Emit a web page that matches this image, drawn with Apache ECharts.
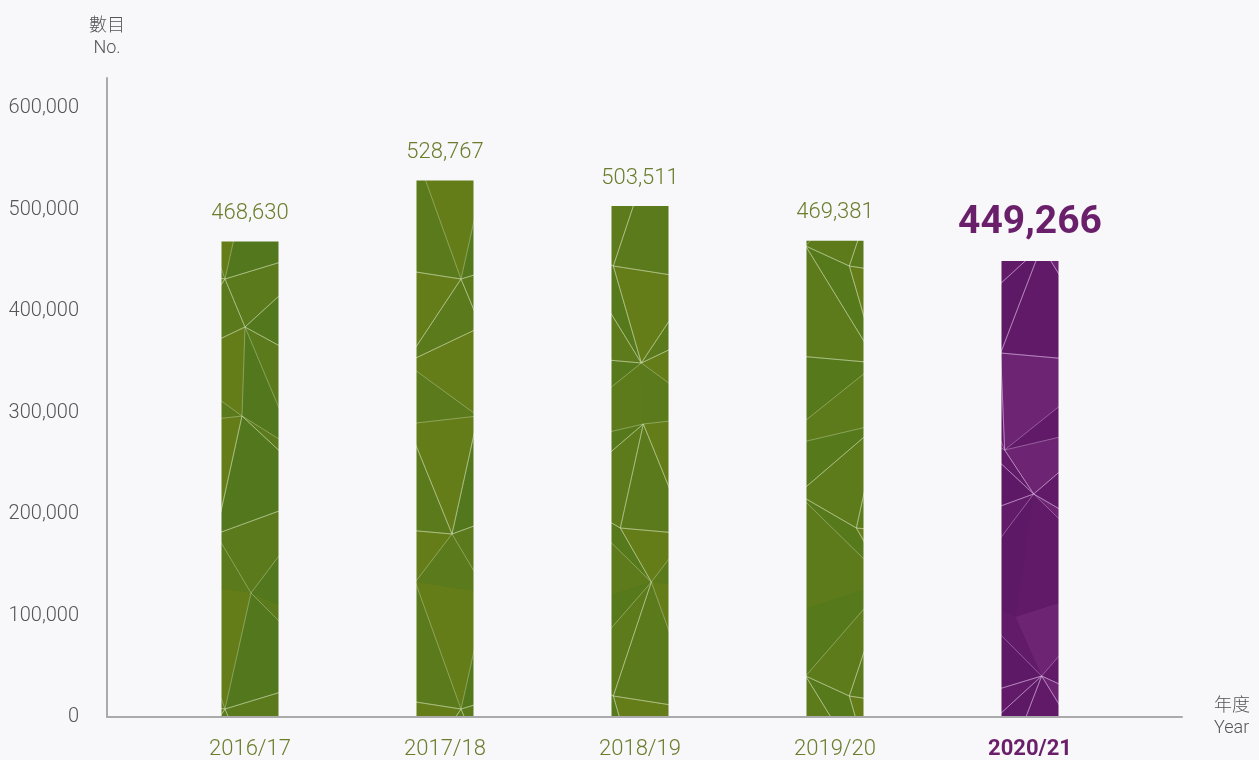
<!DOCTYPE html>
<html>
<head>
<meta charset="utf-8">
<script src="https://cdn.jsdelivr.net/npm/echarts@6/dist/echarts.min.js"></script>
<style>
html,body{margin:0;padding:0;background:#f8f7fa;}
#chart{width:1259px;height:760px;}
</style>
</head>
<body>
<div id="chart"></div>
<script>
const years = ['2016/17','2017/18','2018/19','2019/20','2020/21'];
const counts = [468630, 528767, 503511, 469381, 449266];
const yTicks = [0, 100000, 200000, 300000, 400000, 500000, 600000];

const GREEN = '#6b7d2c';
const PURPLE = '#6a1f6b';
const fmt = v => v.toString().replace(/\B(?=(\d{3})+(?!\d))/g, ',');
const lastIdx = years.length - 1;

// decorative low-poly texture for the bars (style only)
function meshTexture(shades, lineColor) {
  const W = 236, H = 430, C = 3, R = 5;
  const dx = [[6,-18,14],[-20,11,-9],[15,-7,22],[-11,19,-16],[9,-22,12]];
  const dy = [[-14,20,-6],[18,-22,12],[-9,15,-20],[21,-12,8],[-17,9,19]];
  const cw = W / C, rh = H / R;
  const mod = (a, n) => ((a % n) + n) % n;
  const P = (r, c) => [c * cw + dx[mod(r,R)][mod(c,C)], r * rh + dy[mod(r,R)][mod(c,C)]];
  const cv = document.createElement('canvas');
  cv.width = W; cv.height = H;
  const ctx = cv.getContext('2d');
  ctx.fillStyle = shades[0];
  ctx.fillRect(0, 0, W, H);
  const tris = [];
  for (let r = -1; r <= R; r++) for (let c = -1; c <= C; c++) {
    const a = P(r, c), b = P(r, c + 1), d = P(r + 1, c), e = P(r + 1, c + 1);
    const rr = mod(r, R), cc = mod(c, C);
    const k = rr * 7 + cc * 3;
    if ((rr + cc) % 2 === 0) { tris.push([a, b, e, k]); tris.push([a, e, d, k + 1]); }
    else { tris.push([a, b, d, k]); tris.push([b, e, d, k + 1]); }
  }
  tris.forEach(t => {
    ctx.beginPath();
    ctx.moveTo(t[0][0], t[0][1]);
    ctx.lineTo(t[1][0], t[1][1]);
    ctx.lineTo(t[2][0], t[2][1]);
    ctx.closePath();
    ctx.fillStyle = shades[t[3] % shades.length];
    ctx.fill();
  });
  ctx.strokeStyle = lineColor;
  ctx.lineWidth = 0.8;
  tris.forEach(t => {
    if (t[3] % 3 === 2) return;
    ctx.beginPath();
    ctx.moveTo(t[0][0], t[0][1]);
    ctx.lineTo(t[1][0], t[1][1]);
    ctx.lineTo(t[2][0], t[2][1]);
    ctx.closePath();
    ctx.stroke();
  });
  return {image: cv, repeat: 'repeat'};
}

const greenFill = meshTexture(['#5a7a1b','#52771d','#617c19','#56791c','#5d7b1a','#4f761e','#647d18'], 'rgba(215,228,190,0.5)');
const purpleFill = meshTexture(['#621b69','#5d1966','#692270','#6d2472','#601a68','#662070','#5a1864'], 'rgba(225,190,232,0.5)');

const chart = echarts.init(document.getElementById('chart'));
chart.setOption({
  backgroundColor: '#f8f7fa',
  animation: false,
  textStyle: {fontFamily: 'Roboto'},
  grid: [
    {left:107, right:77, top:78, bottom:43},
    {left:152.5, right:131.5, top:78, bottom:43}
  ],
  xAxis: [
    {gridIndex:0, type:'value', min:0, max:1,
     axisLine:{show:true, lineStyle:{color:'#aaaaaa', width:2}},
     axisTick:{show:false}, axisLabel:{show:false}, splitLine:{show:false},
     name:'年度\nYear', nameLocation:'end', nameGap:32,
     nameTextStyle:{color:'#555', fontSize:18, fontWeight:300, lineHeight:22, align:'left', fontFamily:'Roboto, "Noto Sans CJK TC"'}},
    {gridIndex:1, type:'category', data: years,
     axisLine:{show:false}, axisTick:{show:false},
     axisLabel:{margin:22, fontSize:22, fontWeight:300, color:GREEN,
       formatter:(v,i)=> i===lastIdx ? '{b|'+v+'}' : v,
       rich:{b:{fontSize:22, fontWeight:'bold', color:PURPLE}}}}
  ],
  yAxis: [
    {gridIndex:0, type:'value', min:0, max:630000, interval:100000,
     axisLine:{show:true, lineStyle:{color:'#aaaaaa', width:2}},
     axisTick:{show:false},
     axisLabel:{margin:28, fontSize:20, fontWeight:300, color:'#555',
       formatter: v => yTicks.indexOf(v) >= 0 ? fmt(v) : ''},
     splitLine:{show:false},
     name:'數目\nNo.', nameLocation:'end', nameGap:19,
     nameTextStyle:{color:'#555', fontSize:18, fontWeight:300, lineHeight:22, align:'center', fontFamily:'Roboto, "Noto Sans CJK TC"'}},
    {gridIndex:1, type:'value', min:0, max:630000, show:false, splitLine:{show:false}}
  ],
  series: [{
    type:'bar', xAxisIndex:1, yAxisIndex:1, barWidth:57,
    data: counts.map((v,i)=>({
      value:v,
      itemStyle:{color: i===lastIdx ? purpleFill : greenFill},
      label: i===lastIdx ? {fontSize:39, fontWeight:'bold', color:PURPLE, distance:18} : {}
    })),
    label:{show:true, position:'top', distance:17, fontSize:22, fontWeight:300, color:GREEN, formatter: p => fmt(p.value)}
  }]
});
</script>
</body>
</html>
